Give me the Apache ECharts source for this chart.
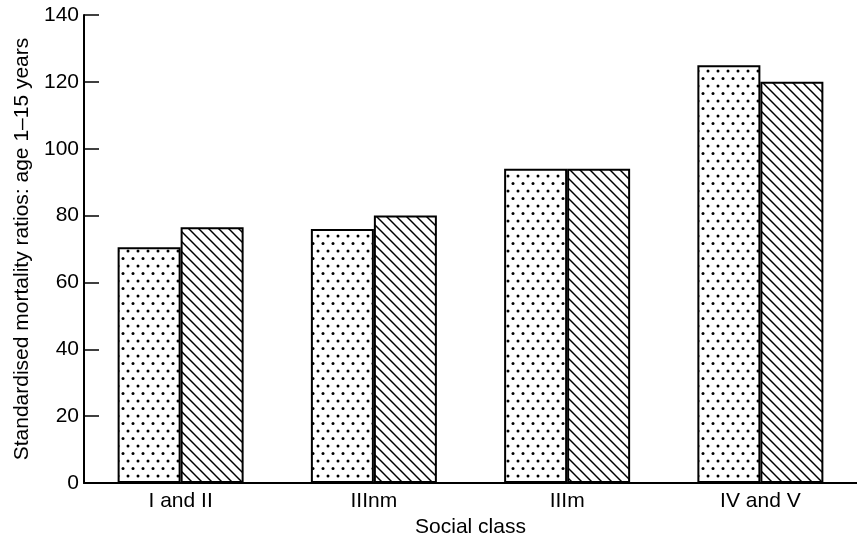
<!DOCTYPE html>
<html>
<head>
<meta charset="utf-8">
<script src="https://cdn.jsdelivr.net/npm/echarts@6/dist/echarts.min.js"></script>
<style>
  html, body { margin: 0; padding: 0; background: #fff; }
  #chart { width: 857px; height: 536px; }
</style>
</head>
<body>
<div id="chart"></div>
<script>
const categories = ['I and II', 'IIInm', 'IIIm', 'IV and V'];
const dottedValues = [70.5, 76, 94, 125];
const hatchedValues = [76.5, 80, 94, 120];
const yTicks = { min: 0, max: 140, interval: 20 };

// fill patterns drawn on small canvases
function dotPattern() {
  const c = document.createElement('canvas');
  c.width = 10;
  c.height = 15;
  const ctx = c.getContext('2d');
  ctx.fillStyle = '#fff';
  ctx.fillRect(0, 0, 10, 15);
  ctx.fillStyle = '#000';
  [[3, 3.5], [8, 11]].forEach(([x, y]) => {
    ctx.beginPath();
    ctx.arc(x, y, 1.5, 0, Math.PI * 2);
    ctx.fill();
  });
  return c;
}

function hatchPattern() {
  const s = 10;
  const c = document.createElement('canvas');
  c.width = s;
  c.height = s;
  const ctx = c.getContext('2d');
  ctx.fillStyle = '#fff';
  ctx.fillRect(0, 0, s, s);
  ctx.strokeStyle = '#000';
  ctx.lineWidth = 1.5;
  [-s, 0, s].forEach((k) => {
    ctx.beginPath();
    ctx.moveTo(-1, k - 1);
    ctx.lineTo(s + 1, s + k + 1);
    ctx.stroke();
  });
  return c;
}

const font = 'Liberation Sans';
const chart = echarts.init(document.getElementById('chart'));

chart.setOption({
  animation: false,
  backgroundColor: '#fff',
  grid: {
    left: 84,
    right: 0,
    top: 15,
    bottom: 53,
    containLabel: false,
    outerBoundsMode: 'none',
  },
  xAxis: {
    type: 'category',
    data: categories,
    name: 'Social class',
    nameLocation: 'middle',
    nameGap: 32,
    nameTextStyle: { fontFamily: font, fontSize: 21, color: '#000' },
    axisLine: { show: true, lineStyle: { color: '#000', width: 2 } },
    axisTick: { show: false },
    axisLabel: { fontFamily: font, fontSize: 21, color: '#000', margin: 8 },
  },
  yAxis: {
    type: 'value',
    min: yTicks.min,
    max: yTicks.max,
    interval: yTicks.interval,
    name: 'Standardised mortality ratios: age 1\u201315 years',
    nameLocation: 'middle',
    nameGap: 50,
    nameTextStyle: { fontFamily: font, fontSize: 21, color: '#000' },
    axisLine: { show: true, lineStyle: { color: '#000', width: 2 } },
    axisTick: { show: true, inside: true, length: 15, lineStyle: { color: '#000', width: 1.5 } },
    axisLabel: { fontFamily: font, fontSize: 21, color: '#000', margin: 5 },
    splitLine: { show: false },
  },
  series: [
    {
      name: 'Series 1',
      type: 'bar',
      data: dottedValues,
      barWidth: 63,
      barGap: '0%',
      itemStyle: {
        color: { image: dotPattern(), repeat: 'repeat' },
        borderColor: '#000',
        borderWidth: 2,
      },
    },
    {
      name: 'Series 2',
      type: 'bar',
      data: hatchedValues,
      barWidth: 63,
      barGap: '0%',
      itemStyle: {
        color: { image: hatchPattern(), repeat: 'repeat' },
        borderColor: '#000',
        borderWidth: 2,
      },
    },
  ],
});
</script>
</body>
</html>
